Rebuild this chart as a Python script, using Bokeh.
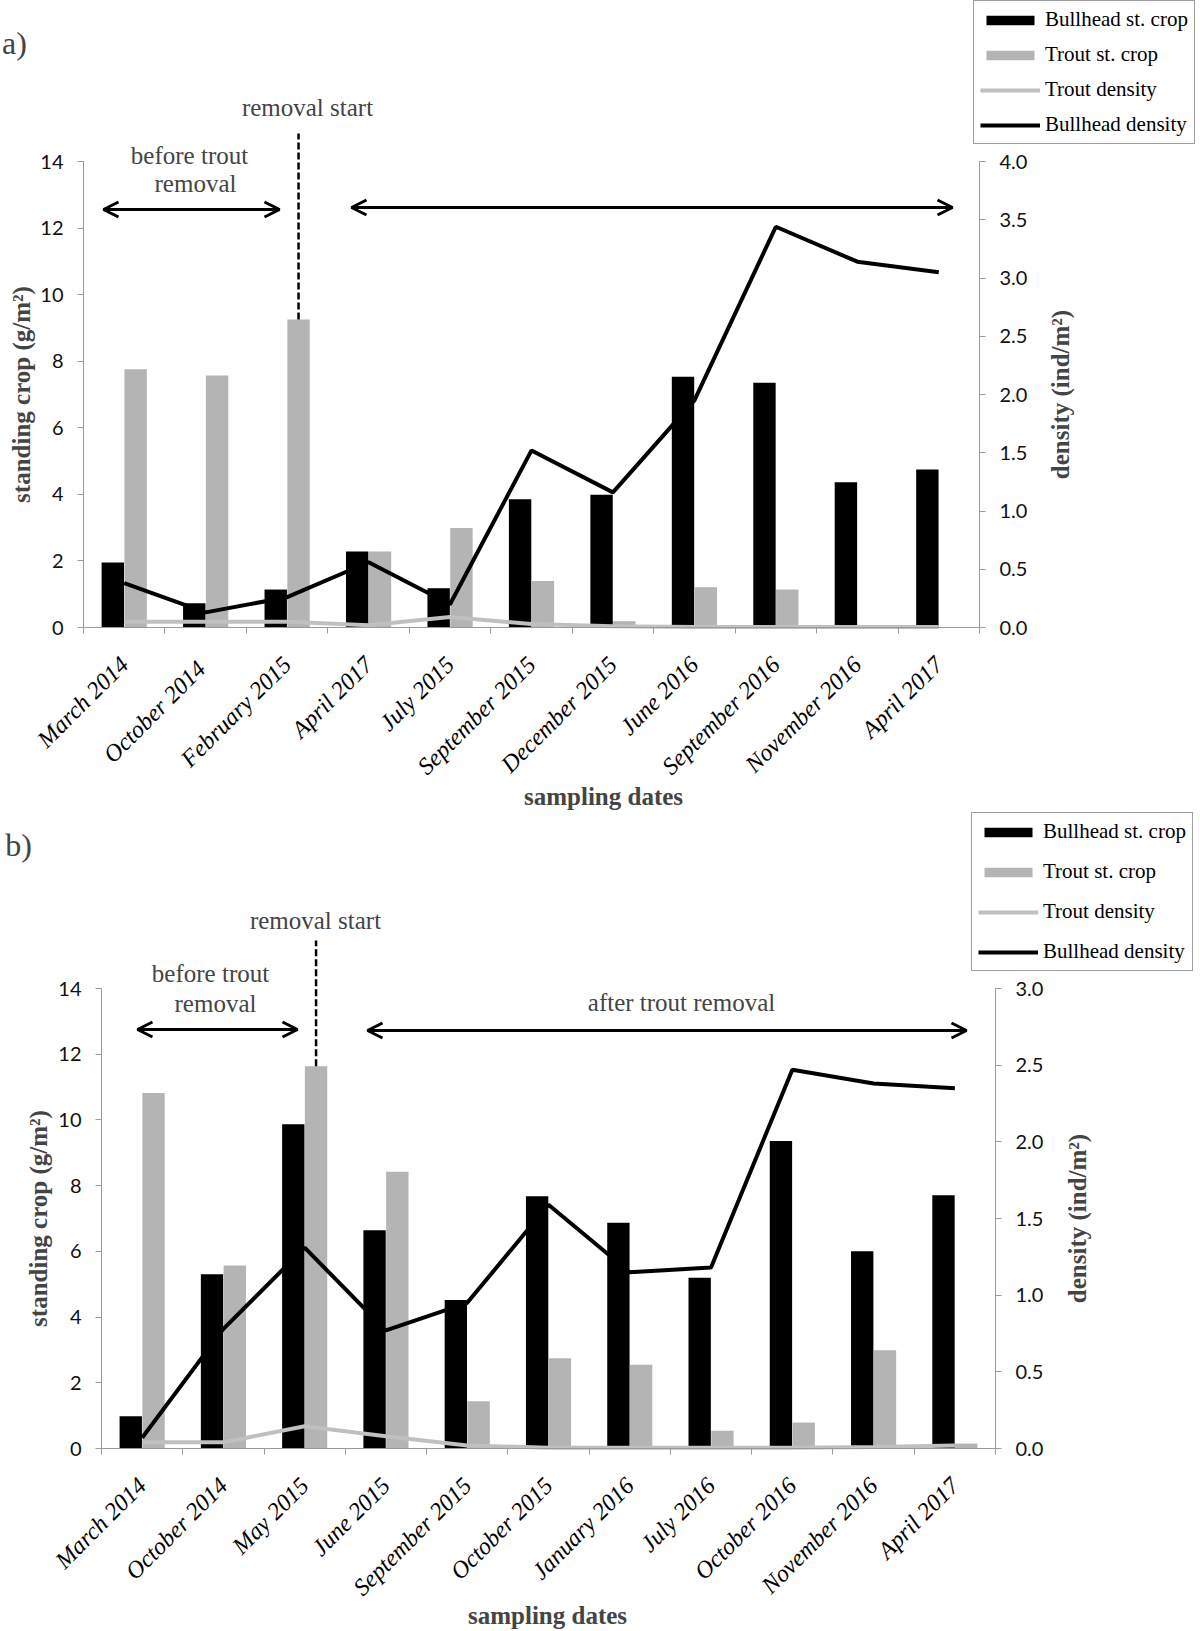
import math
from bokeh.plotting import figure
from bokeh.models import (Range1d, LinearAxis, FixedTicker, Legend, LegendItem, Label,
                          Arrow, OpenHead, NumeralTickFormatter)
from bokeh.layouts import column
from bokeh.embed import file_html
from bokeh.resources import INLINE

# ---------------- data: panel a ----------------
dates_a = ["March 2014", "October  2014", "February 2015", "April 2017", "July 2015",
           "September 2015", "December 2015", "June 2016", "September 2016",
           "November 2016", "April 2017"]
bullhead_crop_a = [1.95, 0.73, 1.14, 2.28, 1.18, 3.85, 3.99, 7.53, 7.35, 4.36, 4.75]
trout_crop_a = [7.76, 7.57, 9.25, 2.28, 2.99, 1.40, 0.19, 1.21, 1.14, 0.0, 0.0]
trout_dens_a = [0.05, 0.05, 0.05, 0.02, 0.09, 0.03, 0.01, 0.005, 0.005, 0.005, 0.005]
bullhead_dens_a = [0.38, 0.13, 0.26, 0.56, 0.20, 1.52, 1.16, 1.95, 3.44, 3.14, 3.05]
crop_ticks = [0, 2, 4, 6, 8, 10, 12, 14]
dens_ticks_a = [0.0, 0.5, 1.0, 1.5, 2.0, 2.5, 3.0, 3.5, 4.0]

# ---------------- data: panel b ----------------
dates_b = ["March 2014", "October 2014", "May 2015", "June 2015", "September 2015",
           "October 2015", "January 2016", "July 2016", "October 2016",
           "November 2016", "April 2017"]
bullhead_crop_b = [0.98, 5.30, 9.87, 6.64, 4.52, 7.68, 6.87, 5.20, 9.36, 6.00, 7.71]
trout_crop_b = [10.82, 5.57, 11.63, 8.42, 1.44, 2.75, 2.55, 0.54, 0.79, 2.99, 0.15]
trout_dens_b = [0.04, 0.04, 0.145, 0.08, 0.02, 0.005, 0.005, 0.005, 0.005, 0.01, 0.02]
bullhead_dens_b = [0.07, 0.78, 1.31, 0.77, 0.95, 1.59, 1.15, 1.18, 2.47, 2.38, 2.35]
dens_ticks_b = [0.0, 0.5, 1.0, 1.5, 2.0, 2.5, 3.0]

legend_labels = ["Bullhead st. crop", "Trout st. crop", "Trout density", "Bullhead density"]

SERIF = "Liberation Serif"
SANS = "Lato"
BLACK = "#000000"
GREY_BAR = "#b4b4b4"
GREY_LINE = "#c0c0c0"
AXIS_GREY = "#9a9a9a"
OFF = 0.14
BAR_W = 0.275
W = 1200
PAGE = 0


def style_y_axis(ax):
    ax.major_tick_out = 6
    ax.major_tick_in = 0
    ax.minor_tick_out = 0
    ax.minor_tick_in = 0
    ax.axis_line_color = AXIS_GREY
    ax.major_tick_line_color = AXIS_GREY
    ax.major_label_standoff = 14
    ax.major_label_text_font = SANS
    ax.major_label_text_font_size = "20px"
    ax.major_label_text_color = "#111111"


def build(dates, bc, tc, td, bd, dens_ticks, g):
    top, height, left, right, y0, y14 = g["top"], g["height"], g["left"], g["right"], g["y0"], g["y14"]
    dmax = dens_ticks[-1]
    ppu = (y0 - y14) / 14.0
    xppu = (right - left) / 11.0
    n = len(dates)

    def X(px):
        return -0.5 + (px - left) / xppu

    def Y(py):
        return (y0 - py) / ppu

    ylo, yhi = Y(top + height), Y(top)
    p = figure(width=W, height=height,
               x_range=Range1d(X(PAGE), X(PAGE + W)), y_range=Range1d(ylo, yhi),
               output_backend="svg", toolbar_location=None,
               x_axis_location=None, y_axis_location=None,
               min_border=0, min_border_left=0, min_border_right=0,
               min_border_top=0, min_border_bottom=0)
    p.outline_line_color = None
    p.xgrid.visible = False
    p.ygrid.visible = False
    p.extra_y_ranges = {"dens": Range1d(ylo * dmax / 14.0, yhi * dmax / 14.0)}

    x = list(range(n))
    xb = [i - OFF for i in x]
    xg = [i + OFF for i in x]
    r1 = p.vbar(x=xb, top=bc, width=BAR_W, fill_color=BLACK, line_color=None)
    r2 = p.vbar(x=xg, top=tc, width=BAR_W, fill_color=GREY_BAR, line_color=None)
    r3 = p.line(x, td, y_range_name="dens", line_color=GREY_LINE, line_width=4)
    r4 = p.line(x, bd, y_range_name="dens", line_color=BLACK, line_width=4)

    # x axis (category axis along y = 0)
    xa = LinearAxis(fixed_location=0, bounds=(-0.5, n - 0.5),
                    ticker=FixedTicker(ticks=x, minor_ticks=[i - 0.5 for i in range(n + 1)]))
    xa.major_label_overrides = {i: d for i, d in enumerate(dates)}
    xa.major_label_orientation = math.pi / 4
    xa.major_tick_out = 0
    xa.major_tick_in = 0
    xa.minor_tick_out = 6
    xa.minor_tick_in = 0
    xa.minor_tick_line_color = AXIS_GREY
    xa.axis_line_color = AXIS_GREY
    xa.major_label_text_font = SERIF
    xa.major_label_text_font_style = "italic"
    xa.major_label_text_font_size = "24px"
    xa.major_label_text_color = BLACK
    xa.major_label_standoff = 27
    p.add_layout(xa, "below")

    # left axis
    ya = LinearAxis(fixed_location=-0.5, bounds=(0, 14), ticker=FixedTicker(ticks=crop_ticks))
    style_y_axis(ya)
    p.add_layout(ya, "left")

    # right axis
    ra = LinearAxis(y_range_name="dens", fixed_location=n - 0.5, bounds=(0, dmax),
                    ticker=FixedTicker(ticks=dens_ticks),
                    formatter=NumeralTickFormatter(format="0.0"))
    style_y_axis(ra)
    p.add_layout(ra, "right")

    # axis titles
    p.add_layout(Label(x=X(g["lt"][0]), y=Y(g["lt"][1]), text="standing crop (g/m\u00b2)",
                       angle=math.pi / 2, text_align="center", text_baseline="middle",
                       text_font=SERIF, text_font_style="bold", text_font_size="25px"))
    p.add_layout(Label(x=X(g["rt"][0]), y=Y(g["rt"][1]), text="density (ind/m\u00b2)",
                       angle=math.pi / 2, text_align="center", text_baseline="middle",
                       text_font=SERIF, text_font_style="bold", text_font_size="25px"))
    p.add_layout(Label(x=X(g["bt"][0]), y=Y(g["bt"][1]), text="sampling dates",
                       text_align="center", text_baseline="middle",
                       text_font=SERIF, text_font_style="bold", text_font_size="25px"))

    # panel letter
    p.add_layout(Label(x=X(g["letter_pos"][0]), y=Y(g["letter_pos"][1]), text=g["letter"],
                       text_align="center", text_baseline="middle",
                       text_font=SERIF, text_font_size="32px"))

    # annotations
    for txt, (px, py) in g["texts"]:
        p.add_layout(Label(x=X(px), y=Y(py), text=txt, text_align="center", text_baseline="middle",
                           text_font=SERIF, text_font_size="25px"))

    # dashed "removal start" line from top of the trout bar of the third sampling
    xd = xg[2]
    p.segment(x0=[xd], y0=[tc[2]], x1=[xd], y1=[Y(g["dash_top"])], line_color=BLACK,
              line_width=2.5, line_dash="7 3")

    for (x0p, x1p, yp) in g["arrows"]:
        p.add_layout(Arrow(x_start=X(x0p), y_start=Y(yp), x_end=X(x1p), y_end=Y(yp),
                           start=OpenHead(size=15, line_width=3, line_color=BLACK),
                           end=OpenHead(size=15, line_width=3, line_color=BLACK),
                           line_width=3, line_color=BLACK))

    # legend (location in pixels from the frame's bottom-left corner)
    lx = g["leg_left"] - PAGE
    ly = (top + height) - g["leg_bottom"]
    leg = Legend(items=[LegendItem(label=legend_labels[0], renderers=[r1]),
                        LegendItem(label=legend_labels[1], renderers=[r2]),
                        LegendItem(label=legend_labels[2], renderers=[r3]),
                        LegendItem(label=legend_labels[3], renderers=[r4])],
                 location=(lx, ly), orientation="vertical", padding=6, spacing=g["leg_spacing"],
                 margin=0, glyph_width=60, glyph_height=12, label_standoff=5,
                 label_text_font=SERIF, label_text_font_size="21px", label_text_color=BLACK,
                 border_line_color="#404040", border_line_width=1, background_fill_color="white",
                 background_fill_alpha=1.0)
    p.add_layout(leg)
    return p


geo_a = dict(top=0, height=812, left=83, right=979, y0=627, y14=161,
             lt=(21, 394), rt=(1060, 394), bt=(603, 796),
             letter="a)", letter_pos=(14, 42),
             texts=[("removal start", (307, 107)), ("before trout", (189, 155)),
                    ("removal", (195, 183))],
             dash_top=133,
             arrows=[(103, 279, 209), (351, 952, 207)],
             leg_left=973, leg_bottom=144, leg_spacing=10)

geo_b = dict(top=812, height=818, left=101, right=995, y0=1448, y14=988,
             lt=(38, 1218), rt=(1077, 1218), bt=(547, 1615),
             letter="b)", letter_pos=(18, 844),
             texts=[("removal start", (315, 920)), ("before trout", (210, 973)),
                    ("removal", (215, 1003)), ("after trout removal", (681, 1002))],
             dash_top=940,
             arrows=[(137, 297, 1029), (367, 966, 1030)],
             leg_left=971, leg_bottom=971, leg_spacing=15)

pa = build(dates_a, bullhead_crop_a, trout_crop_a, trout_dens_a, bullhead_dens_a, dens_ticks_a, geo_a)
pb = build(dates_b, bullhead_crop_b, trout_crop_b, trout_dens_b, bullhead_dens_b, dens_ticks_b, geo_b)

layout = column(pa, pb, spacing=0)
open("out.html", "w").write(file_html(layout, INLINE))
